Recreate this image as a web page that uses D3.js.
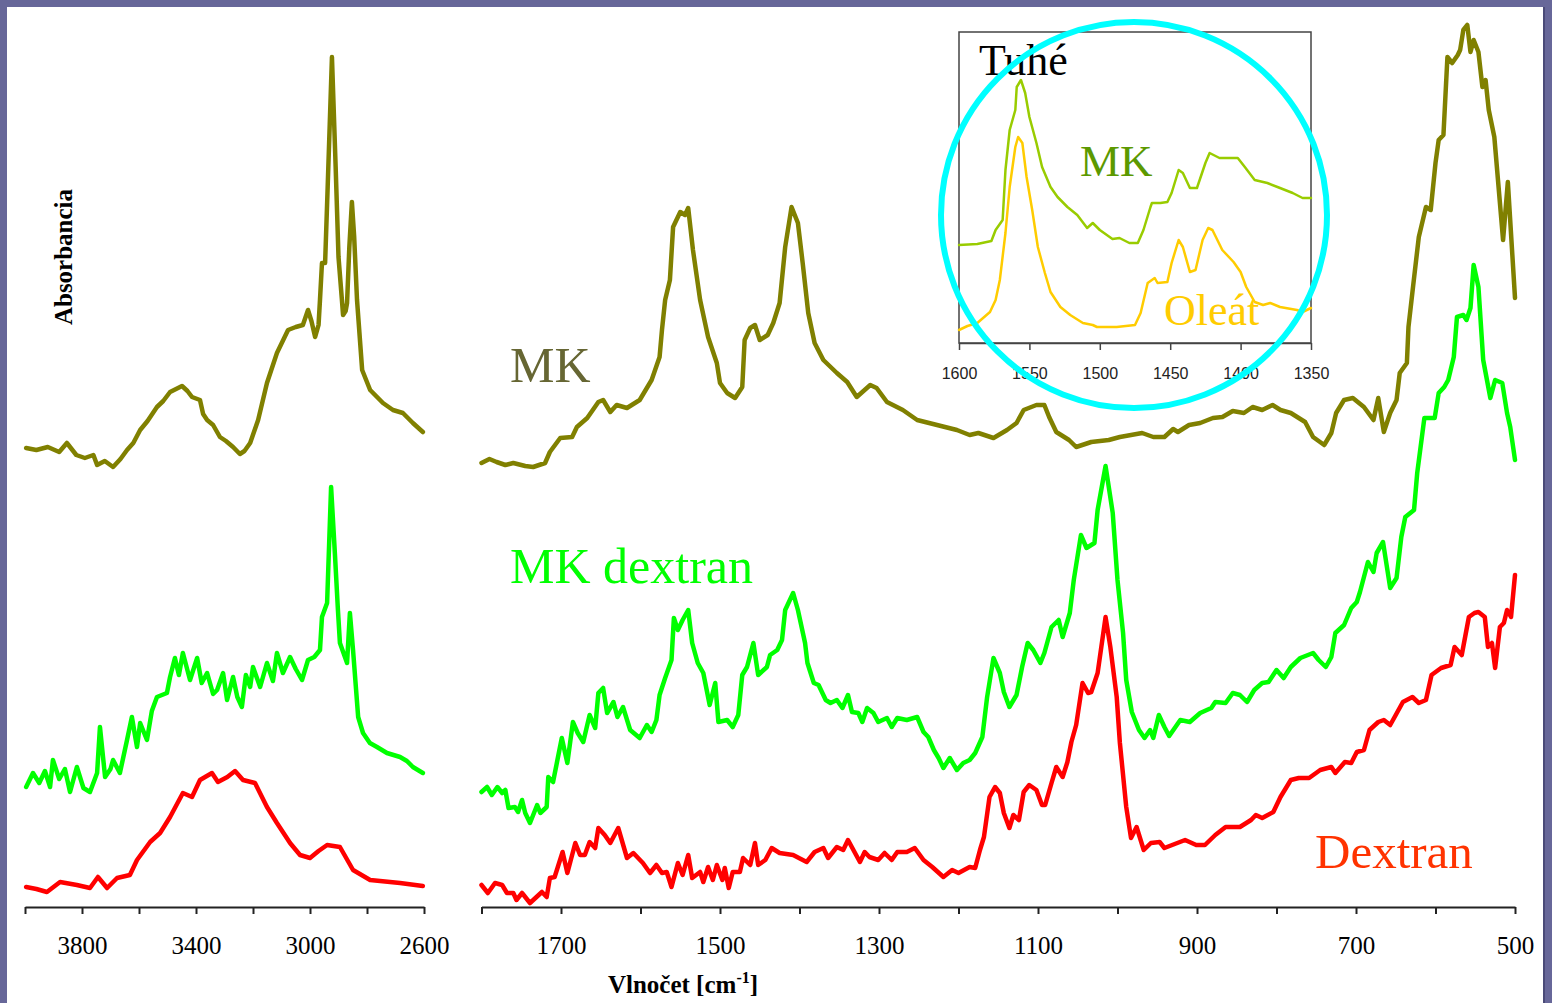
<!DOCTYPE html>
<html>
<head>
<meta charset="utf-8">
<script src="https://cdn.jsdelivr.net/npm/d3@7"></script>
<style>
  html, body { margin: 0; padding: 0; background: #676799; }
  svg { display: block; }
  .tick text { font-family: "Liberation Serif", "Times New Roman", serif; }
</style>
</head>
<body>
<div id="chart"></div>
<script>
// Spectra: [wavenumber cm-1, absorbance (arbitrary units)]
const mkLeft = [
  [3996,45.9],[3960,45.7],[3920,46.0],[3880,45.5],[3853,46.4],[3820,45.2],[3790,44.9],[3760,45.2],
  [3747,44.2],[3720,44.6],[3691,44.0],[3665,44.8],[3642,45.7],[3620,46.4],[3596,47.7],[3570,48.6],
  [3537,50.0],[3515,50.6],[3491,51.5],[3470,51.8],[3449,52.1],[3430,51.6],[3414,51.0],[3386,50.7],
  [3375,49.3],[3361,48.7],[3340,48.2],[3316,47.0],[3295,46.6],[3270,46.0],[3246,45.3],[3230,45.6],
  [3210,46.4],[3182,48.7],[3151,52.4],[3116,55.4],[3077,57.7],[3050,58.0],[3025,58.2],[3007,59.7],
  [2995,58.6],[2982,57.0],[2970,58.2],[2965,60.7],[2958,64.4],[2947,64.4],[2938,72.0],[2923,85.0],
  [2910,74.0],[2900,65.0],[2888,60.7],[2884,59.2],[2875,59.6],[2870,60.4],[2862,66.0],[2853,70.5],
  [2845,67.0],[2835,60.7],[2817,53.7],[2789,51.7],[2744,50.4],[2709,49.7],[2674,49.4],[2639,48.4],[2604,47.5]
];
const mkDextranLeft = [
  [3996,12.0],[3972,13.4],[3950,12.4],[3930,13.6],[3912,12.0],[3902,14.7],[3880,12.8],[3860,13.8],
  [3842,11.5],[3818,14.0],[3795,11.9],[3772,11.5],[3747,13.4],[3737,18.0],[3719,13.0],[3700,13.8],
  [3691,14.7],[3667,13.4],[3642,16.7],[3625,19.0],[3607,16.0],[3596,18.4],[3572,16.7],[3555,19.6],
  [3537,21.0],[3502,21.4],[3491,23.0],[3474,24.9],[3460,23.2],[3446,25.4],[3421,22.7],[3396,24.9],
  [3380,22.4],[3361,23.4],[3340,21.3],[3326,21.7],[3305,23.4],[3291,20.7],[3270,23.0],[3255,21.0],
  [3239,20.0],[3225,23.2],[3210,22.0],[3200,24.0],[3175,22.0],[3151,24.4],[3130,22.6],[3116,25.4],
  [3095,23.4],[3070,25.0],[3050,23.8],[3028,22.7],[3007,24.7],[2985,25.0],[2965,25.7],[2958,29.0],
  [2940,30.4],[2926,42.0],[2912,35.0],[2902,29.7],[2895,26.4],[2870,24.4],[2860,29.4],[2849,25.7],
  [2831,19.0],[2814,17.4],[2790,16.4],[2765,16.0],[2730,15.4],[2684,15.0],[2660,14.6],[2639,14.0],[2604,13.4]
];
const dextranLeft = [
  [3996,2.0],[3960,1.8],[3923,1.5],[3877,2.5],[3818,2.2],[3772,1.9],[3744,3.0],[3712,1.9],[3677,2.9],
  [3632,3.2],[3607,4.7],[3561,6.5],[3526,7.4],[3491,9.0],[3446,11.4],[3414,11.0],[3386,12.7],[3344,13.4],
  [3323,12.5],[3290,13.0],[3263,13.6],[3235,12.7],[3193,12.4],[3151,10.0],[3116,8.4],[3070,6.4],[3035,5.2],
  [3000,4.9],[2970,5.6],[2940,6.2],[2895,6.0],[2849,3.7],[2789,2.7],[2684,2.4],[2604,2.1]
];
const mkRight = [
  [1800,44.4],[1790,44.8],[1781,44.5],[1770,44.2],[1760,44.4],[1745,44.1],[1735,44.0],[1720,44.4],
  [1714,45.5],[1701,46.9],[1686,47.0],[1680,48.0],[1667,48.9],[1653,50.5],[1647,50.7],[1638,49.5],
  [1630,50.2],[1617,49.9],[1601,50.7],[1586,52.7],[1576,55.0],[1573,57.7],[1569,60.7],[1563,62.7],
  [1559,68.0],[1550,69.5],[1544,69.2],[1540,69.9],[1534,65.7],[1525,60.7],[1515,57.0],[1504,54.4],
  [1500,52.4],[1491,51.4],[1481,50.9],[1472,52.0],[1469,56.7],[1462,57.9],[1456,58.2],[1450,56.7],
  [1440,57.2],[1433,58.4],[1425,60.4],[1418,66.0],[1410,70.0],[1402,68.4],[1396,64.4],[1389,59.4],
  [1381,56.4],[1370,54.7],[1353,53.4],[1340,52.5],[1328,51.0],[1311,52.2],[1303,51.9],[1290,50.5],
  [1270,49.7],[1252,48.7],[1227,48.2],[1202,47.7],[1186,47.2],[1175,47.4],[1156,46.9],[1139,47.7],
  [1127,48.4],[1118,49.7],[1102,50.2],[1092,50.2],[1086,49.0],[1077,47.5],[1061,46.7],[1052,46.0],
  [1033,46.5],[1011,46.7],[997,47.0],[969,47.4],[955,47.0],[941,47.0],[930,47.8],[924,47.5],[910,48.2],
  [896,48.4],[880,48.9],[868,49.0],[855,49.6],[841,49.4],[830,50.0],[818,49.7],[805,50.2],[795,49.7],
  [782,49.4],[764,48.5],[754,47.0],[740,46.2],[731,47.4],[725,49.4],
  [715,50.7],[704,50.9],[690,50.0],[678,48.7],[672,50.9],[665,47.5],[657,49.4],[649,50.7],[645,53.4],
  [636,54.4],[634,58.0],[628,62.2],[621,67.0],[612,70.0],[606,69.7],[600,74.4],[596,76.7],[590,77.2],
  [585,85.0],[579,84.4],[572,85.2],[569,85.7],[565,87.7],[560,88.2],[556,85.5],[552,86.7],[546,85.5],
  [541,82.0],[537,82.7],[533,79.7],[526,77.0],[515,66.7],[509,72.5],[500,60.9]
];
const mkDextranRight = [
  [1800,11.5],[1793,12.0],[1787,11.2],[1780,12.0],[1774,11.4],[1770,11.7],[1766,9.9],[1758,10.0],
  [1754,9.5],[1749,10.7],[1745,9.4],[1739,8.4],[1730,10.2],[1726,9.4],[1718,10.0],[1716,13.0],
  [1710,12.5],[1705,14.5],[1699,16.9],[1692,14.4],[1685,18.5],[1679,17.4],[1672,16.5],[1664,19.2],
  [1657,17.9],[1653,21.4],[1647,21.9],[1642,19.4],[1634,20.5],[1629,19.0],[1622,20.0],[1613,17.7],
  [1601,16.9],[1592,18.2],[1586,17.5],[1580,18.7],[1576,21.2],[1569,22.9],[1561,24.7],[1558,28.9],
  [1553,27.7],[1547,28.7],[1540,29.7],[1535,26.4],[1528,24.4],[1521,23.4],[1513,20.2],[1506,22.4],
  [1502,18.5],[1491,18.7],[1484,18.0],[1477,19.2],[1472,23.2],[1466,24.0],[1458,26.4],[1452,23.2],
  [1441,24.0],[1437,25.2],[1428,25.7],[1422,26.7],[1418,29.7],[1408,31.4],[1402,29.7],[1393,26.4],
  [1390,24.4],[1382,22.4],[1376,22.2],[1367,20.7],[1361,20.4],[1353,20.7],[1346,19.9],[1339,21.2],
  [1334,19.5],[1326,19.4],[1321,18.5],[1315,19.9],[1307,19.4],[1301,18.5],[1290,18.9],[1284,18.0],
  [1277,18.9],[1265,18.7],[1252,19.0],[1244,17.5],[1238,17.0],[1231,15.7],[1225,14.9],[1219,13.9],
  [1211,14.9],[1202,13.7],[1194,14.4],[1186,14.7],[1179,15.4],[1170,17.0],[1164,21.0],[1156,24.9],
  [1148,23.4],[1143,21.5],[1136,20.0],[1127,21.2],[1120,24.0],[1113,26.4],[1106,25.7],[1097,24.4],
  [1092,25.4],[1083,28.0],[1074,28.7],[1069,27.0],[1060,29.4],[1055,32.7],[1046,37.2],[1039,35.9],
  [1029,36.4],[1025,39.7],[1015,44.1],[1006,39.4],[1000,32.7],[993,27.4],[989,22.7],[982,19.5],
  [973,17.7],[966,16.9],[959,17.7],[955,16.9],[948,19.2],[941,18.0],[935,17.1],[921,18.7],[909,18.5],
  [896,19.4],[882,19.9],[877,20.5],[864,20.4],[855,21.4],[846,21.2],[837,20.5],[828,21.7],[818,22.4],
  [810,22.5],[800,23.7],[791,22.9],[782,24.0],[770,24.9],[754,25.4],[747,24.7],[738,24.0],[731,25.0],
  [726,27.4],[715,28.2],[706,29.9],[699,30.5],[695,31.5],[685,34.5],[678,33.5],[674,35.4],[666,36.5],
  [657,31.9],[649,32.9],[643,37.0],[638,39.0],[627,39.7],[623,43.4],[614,48.9],[601,48.9],[596,51.4],
  [589,52.0],[584,52.7],[577,55.0],[573,59.0],[565,59.2],[561,58.7],[556,59.9],[552,64.2],[546,62.0],
  [540,54.7],[531,50.9],[525,52.7],[516,52.4],[510,49.4],[506,48.0],[500,44.7]
];
const dextranRight = [
  [1800,2.2],[1792,1.4],[1783,2.4],[1774,2.2],[1768,1.4],[1760,1.4],[1756,0.7],[1749,1.4],[1739,0.4],
  [1724,1.5],[1718,1.0],[1714,2.9],[1708,3.0],[1704,4.0],[1698,5.5],[1692,3.4],[1682,6.4],[1676,5.2],
  [1670,5.2],[1664,6.5],[1657,5.9],[1653,7.9],[1645,7.2],[1638,6.4],[1628,7.9],[1617,4.9],[1609,5.4],
  [1597,4.4],[1588,3.4],[1580,4.2],[1573,3.4],[1567,3.5],[1561,2.0],[1553,4.4],[1547,3.2],[1540,5.2],
  [1535,2.9],[1525,3.5],[1521,2.5],[1515,4.0],[1509,2.7],[1504,4.2],[1497,2.7],[1494,3.9],[1489,1.9],
  [1484,3.5],[1475,3.5],[1471,4.9],[1462,4.2],[1456,6.4],[1452,4.2],[1443,4.7],[1435,5.9],[1425,5.4],
  [1408,5.2],[1391,4.5],[1381,5.5],[1370,5.9],[1364,4.9],[1353,6.0],[1345,5.7],[1339,6.7],[1324,4.5],
  [1318,5.5],[1312,5.0],[1301,4.7],[1293,5.4],[1284,4.7],[1277,5.5],[1265,5.5],[1255,5.9],[1244,4.7],
  [1233,4.0],[1219,3.0],[1208,3.7],[1200,3.4],[1186,4.0],[1179,3.9],[1173,5.7],[1168,7.0],[1161,11.0],
  [1154,12.0],[1148,11.4],[1143,9.4],[1136,7.9],[1131,9.2],[1124,8.7],[1118,11.5],[1111,12.2],[1102,11.7],
  [1095,10.2],[1091,10.2],[1083,12.4],[1077,14.0],[1069,13.0],[1063,14.5],[1058,16.5],[1052,18.2],
  [1044,22.4],[1037,21.4],[1033,21.5],[1025,23.4],[1015,29.0],[1009,26.0],[1001,21.0],[997,16.4],
  [989,10.0],[983,6.9],[976,8.0],[967,5.7],[958,6.4],[947,6.5],[941,5.9],[915,6.7],[901,6.2],[890,6.2],
  [877,7.2],[864,8.0],[846,8.0],[832,8.7],[826,9.2],[818,8.9],[804,9.5],[795,11.0],[782,12.7],[772,12.9],
  [759,12.9],[745,13.7],[731,14.0],[726,13.4],[714,14.5],[706,14.4],[699,15.5],[690,15.7],[683,17.7],
  [672,18.5],[665,18.7],[657,18.2],[650,19.2],[641,20.5],[629,21.0],[621,20.4],[612,20.7],[605,23.2],
  [593,23.9],[581,24.2],[576,26.0],[567,25.2],[558,29.0],[551,29.4],[546,29.5],[538,29.0],[534,26.0],
  [529,26.4],[525,23.9],[519,28.0],[514,28.4],[510,29.7],[505,29.0],[500,33.2]
];
// Inset "Tuhé" (solid samples), 1600-1350 cm-1
const insetMK = [
  [1600,9.8],[1587,9.9],[1577,10.2],[1574,11.3],[1569,12.3],[1567,17.3],[1564,21.3],[1560,23.3],
  [1559,25.6],[1556,26.3],[1553,25.0],[1550,22.6],[1545,20.0],[1541,17.6],[1535,15.6],[1530,14.6],
  [1523,13.6],[1516,12.8],[1509,11.5],[1505,12.0],[1500,11.3],[1491,10.4],[1486,10.5],[1479,10.0],
  [1473,10.0],[1469,11.3],[1464,13.6],[1463,14.0],[1457,14.0],[1452,14.1],[1449,15.0],[1444,17.3],
  [1441,17.0],[1436,15.5],[1431,15.5],[1425,18.0],[1422,19.0],[1415,18.5],[1402,18.5],[1397,17.6],
  [1390,16.3],[1381,16.0],[1372,15.5],[1363,15.0],[1356,14.5],[1350,14.5]
];
const insetOleat = [
  [1600,1.3],[1594,1.7],[1587,2.0],[1578,3.1],[1574,4.3],[1571,6.3],[1567,11.0],[1564,15.6],[1560,19.6],
  [1558,20.6],[1555,20.0],[1552,16.6],[1548,13.3],[1544,9.6],[1539,7.0],[1535,5.1],[1528,3.6],[1521,2.8],
  [1512,2.0],[1505,1.8],[1502,1.6],[1488,1.6],[1475,1.8],[1471,3.0],[1466,6.0],[1461,6.5],[1459,6.0],
  [1452,6.1],[1449,8.0],[1444,10.3],[1441,9.6],[1436,7.1],[1432,7.3],[1427,10.3],[1423,11.5],[1420,11.3],
  [1413,9.3],[1405,8.1],[1400,7.1],[1396,5.6],[1390,4.1],[1384,3.8],[1379,4.0],[1372,3.6],[1360,3.3],
  [1356,3.1],[1350,3.5]
];

// Ticks and labels
const leftTicks = d3.range(4000, 2599, -200);
const leftLabels = [3800, 3400, 3000, 2600];
const rightTicks = d3.range(1800, 499, -100);
const rightLabels = [1700, 1500, 1300, 1100, 900, 700, 500];
const insetTicks = [1600, 1550, 1500, 1450, 1400, 1350];

const W = 1552, H = 1003;
const svg = d3.select("#chart").append("svg")
  .attr("width", W).attr("height", H);

// Slide background
svg.append("rect").attr("width", W).attr("height", H).attr("fill", "#676799");
svg.append("rect").attr("x", 7).attr("y", 7).attr("width", 1536).attr("height", H).attr("fill", "#ffffff");
svg.append("line").attr("x1", 1544).attr("x2", 1544).attr("y1", 7).attr("y2", H)
   .attr("stroke", "#4a4a78").attr("stroke-width", 2);

// Scales
const xLeft = d3.scaleLinear().domain([4000, 2600]).range([25, 424]);
const xRight = d3.scaleLinear().domain([1800, 500]).range([481.5, 1515]);
const y = d3.scaleLinear().domain([0, 90]).range([907, 7]);
const xInset = d3.scaleLinear().domain([1600, 1350]).range([959, 1311]);
const yInset = d3.scaleLinear().domain([0, 31.1]).range([343, 32]);

const lineL = d3.line().x(d => xLeft(d[0])).y(d => y(d[1]));
const lineR = d3.line().x(d => xRight(d[0])).y(d => y(d[1]));
const lineI = d3.line().x(d => xInset(d[0])).y(d => yInset(d[1]));

function drawSpectrum(data, line, color, width) {
  svg.append("path")
     .datum(data)
     .attr("d", line)
     .attr("fill", "none")
     .attr("stroke", color)
     .attr("stroke-width", width)
     .attr("stroke-linejoin", "round")
     .attr("stroke-linecap", "round");
}

drawSpectrum(mkLeft, lineL, "#808000", 4.5);
drawSpectrum(mkDextranLeft, lineL, "#00ff00", 4.5);
drawSpectrum(dextranLeft, lineL, "#ff0000", 4.5);
drawSpectrum(mkRight, lineR, "#808000", 4.5);
drawSpectrum(mkDextranRight, lineR, "#00ff00", 4.5);
drawSpectrum(dextranRight, lineR, "#ff0000", 4.5);

// Axes
function styleAxis(g, size) {
  g.select(".domain").attr("stroke", "#222").attr("stroke-width", 2);
  g.selectAll(".tick line").attr("stroke", "#222").attr("stroke-width", 2);
  g.selectAll(".tick text").attr("fill", "#000").style("font-size", size + "px");
}

svg.append("g")
   .attr("transform", "translate(0,907)")
   .call(d3.axisBottom(xLeft).tickValues(leftTicks).tickSize(7).tickSizeOuter(0).tickPadding(22)
        .tickFormat(d => leftLabels.includes(d) ? d : ""))
   .call(g => styleAxis(g, 25));

svg.append("g")
   .attr("transform", "translate(0,907)")
   .call(d3.axisBottom(xRight).tickValues(rightTicks).tickSize(7).tickSizeOuter(0).tickPadding(22)
        .tickFormat(d => rightLabels.includes(d) ? d : ""))
   .call(g => styleAxis(g, 25));

// Axis titles
const title = svg.append("text")
   .attr("x", 683).attr("y", 993)
   .attr("text-anchor", "middle")
   .style("font-family", "'Liberation Serif', 'Times New Roman', serif")
   .style("font-weight", "bold")
   .style("font-size", "25px");
title.append("tspan").text("Vlnočet [cm");
title.append("tspan").attr("dy", -10).style("font-size", "16px").text("-1");
title.append("tspan").attr("dy", 10).text("]");

svg.append("text")
   .attr("transform", "translate(72,257) rotate(-90)")
   .attr("text-anchor", "middle")
   .style("font-family", "'Liberation Serif', 'Times New Roman', serif")
   .style("font-weight", "bold")
   .style("font-size", "25px")
   .text("Absorbancia");

// Series labels
function label(txt, x, yy, color, size) {
  svg.append("text")
     .attr("x", x).attr("y", yy)
     .attr("fill", color)
     .style("font-family", "'Liberation Serif', 'Times New Roman', serif")
     .style("font-size", size + "px")
     .text(txt);
}
label("MK", 510, 382, "#666633", 50);
label("MK dextran", 510, 583, "#00ff00", 50);
label("Dextran", 1315, 868, "#ff3300", 49);

// Inset
svg.append("rect")
   .attr("x", 959).attr("y", 32).attr("width", 352).attr("height", 311)
   .attr("fill", "#ffffff").attr("stroke", "#444").attr("stroke-width", 1.5);

drawSpectrum(insetMK, lineI, "#99cc00", 2.5);
drawSpectrum(insetOleat, lineI, "#ffcc00", 2.5);

const insetAxis = svg.append("g")
   .attr("transform", "translate(0,343)")
   .call(d3.axisBottom(xInset).tickValues(insetTicks).tickSize(7).tickSizeOuter(0).tickPadding(18)
        .tickFormat(d3.format("d")));
insetAxis.select(".domain").attr("stroke", "#444").attr("stroke-width", 1.5);
insetAxis.selectAll(".tick line").attr("stroke", "#444").attr("stroke-width", 1.5);
insetAxis.selectAll(".tick text")
   .attr("fill", "#222")
   .style("font-family", "'Liberation Sans', Arial, sans-serif")
   .style("font-size", "16px");

svg.append("text")
   .attr("x", 979).attr("y", 75)
   .style("font-family", "'Liberation Serif', 'Times New Roman', serif")
   .style("font-size", "44px")
   .attr("fill", "#000")
   .text("Tuhé");
svg.append("text")
   .attr("x", 1080).attr("y", 176)
   .style("font-family", "'Liberation Serif', 'Times New Roman', serif")
   .style("font-size", "45px")
   .attr("fill", "#5c9900")
   .text("MK");
svg.append("text")
   .attr("x", 1164).attr("y", 325)
   .style("font-family", "'Liberation Serif', 'Times New Roman', serif")
   .style("font-size", "44px")
   .attr("fill", "#ffcc00")
   .text("Oleát");

// Highlight circle
svg.append("circle")
   .attr("cx", 1134).attr("cy", 215).attr("r", 193)
   .attr("fill", "none")
   .attr("stroke", "#00ffff")
   .attr("stroke-width", 6);
</script>
</body>
</html>
